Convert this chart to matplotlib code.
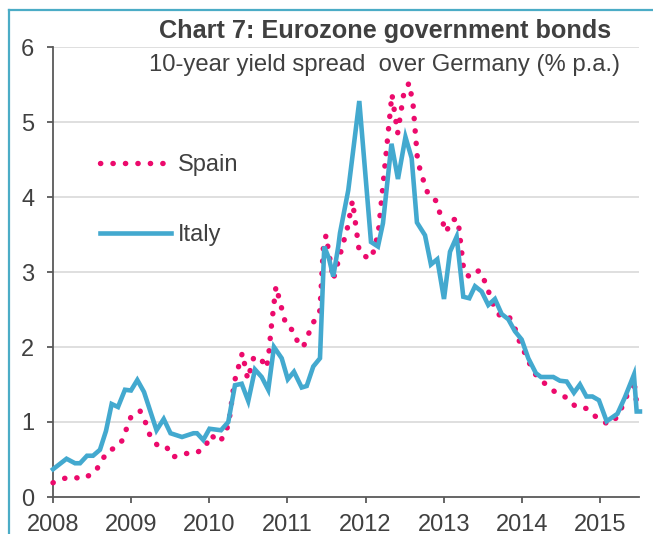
import matplotlib
matplotlib.use('Agg')
from matplotlib import pyplot as plt
from matplotlib.lines import Line2D

plt.rcParams['font.family'] = ['Liberation Sans', 'DejaVu Sans']

# Italy: 10-year spread over Germany (% p.a.)
italyYears = [2008.000, 2008.173, 2008.282, 2008.346, 2008.435, 2008.512, 2008.601, 2008.678,
	2008.751, 2008.832, 2008.921, 2008.998, 2009.079, 2009.165, 2009.325, 2009.417, 2009.504,
	2009.651, 2009.798, 2009.843, 2009.923, 2010.003, 2010.150, 2010.243, 2010.329, 2010.415,
	2010.499, 2010.585, 2010.671, 2010.755, 2010.828, 2010.927, 2011.005, 2011.084, 2011.183,
	2011.247, 2011.331, 2011.417, 2011.472, 2011.532, 2011.587, 2011.651, 2011.673, 2011.779,
	2011.920, 2012.070, 2012.159, 2012.223, 2012.332, 2012.415, 2012.511, 2012.590, 2012.658,
	2012.761, 2012.837, 2012.918, 2013.004, 2013.081, 2013.166, 2013.251, 2013.328, 2013.401,
	2013.486, 2013.571, 2013.656, 2013.742, 2013.827, 2013.912, 2013.998, 2014.083, 2014.181,
	2014.245, 2014.403, 2014.488, 2014.574, 2014.667, 2014.744, 2014.827, 2014.904, 2014.987,
	2015.086, 2015.224, 2015.320, 2015.435, 2015.470, 2015.512]
italy = [0.37, 0.51, 0.45, 0.45, 0.55, 0.55, 0.63, 0.88, 1.24, 1.20, 1.43, 1.42, 1.56, 1.40,
	0.89, 1.04, 0.85, 0.80, 0.85, 0.85, 0.76, 0.91, 0.89, 1.00, 1.49, 1.51, 1.28, 1.70, 1.60,
	1.43, 2.00, 1.85, 1.57, 1.67, 1.46, 1.48, 1.74, 1.85, 3.34, 3.18, 2.94, 3.34, 3.52, 4.09,
	5.28, 3.40, 3.34, 3.65, 4.71, 4.24, 4.80, 4.52, 3.66, 3.49, 3.10, 3.17, 2.64, 3.27, 3.47,
	2.67, 2.65, 2.81, 2.74, 2.56, 2.64, 2.44, 2.37, 2.21, 2.10, 1.85, 1.65, 1.60, 1.60, 1.55,
	1.54, 1.39, 1.50, 1.34, 1.34, 1.29, 1.01, 1.11, 1.33, 1.63, 1.14, 1.14]

# Spain
spainYears = [2008.000, 2008.115, 2008.237, 2008.378, 2008.537, 2008.697, 2008.806, 2008.883,
	2008.998, 2009.113, 2009.190, 2009.241, 2009.335, 2009.446, 2009.532, 2009.668, 2009.817,
	2009.941, 2010.018, 2010.128, 2010.205, 2010.252, 2010.320, 2010.423, 2010.492, 2010.566,
	2010.649, 2010.726, 2010.755, 2010.790, 2010.854, 2010.982, 2011.084, 2011.139, 2011.203,
	2011.327, 2011.408, 2011.417, 2011.459, 2011.494, 2011.587, 2011.771, 2011.833, 2011.920,
	2012.048, 2012.112, 2012.166, 2012.338, 2012.411, 2012.488, 2012.556, 2012.607, 2012.665,
	2012.709, 2012.803, 2012.901, 2013.029, 2013.110, 2013.183, 2013.260, 2013.337, 2013.452,
	2013.529, 2013.644, 2013.729, 2013.840, 2013.912, 2013.968, 2014.104, 2014.190, 2014.309,
	2014.437, 2014.582, 2014.693, 2014.830, 2014.936, 2015.022, 2015.119, 2015.234, 2015.298,
	2015.435, 2015.473, 2015.512]
spain = [0.19, 0.24, 0.27, 0.24, 0.33, 0.61, 0.66, 0.75, 1.07, 1.15, 0.98, 0.82, 0.69, 0.68,
	0.53, 0.58, 0.58, 0.65, 0.83, 0.73, 0.84, 1.00, 1.53, 1.92, 1.57, 1.85, 1.87, 1.72, 1.83,
	2.23, 2.81, 2.29, 2.21, 2.04, 2.00, 2.32, 2.45, 2.50, 3.31, 3.49, 2.90, 3.60, 3.95, 3.27,
	3.17, 3.29, 3.55, 5.37, 4.85, 5.37, 5.52, 5.25, 4.50, 4.32, 4.03, 3.95, 3.53, 3.70, 3.70,
	3.00, 2.93, 3.02, 2.87, 2.54, 2.40, 2.40, 2.25, 2.08, 1.77, 1.61, 1.50, 1.39, 1.32, 1.20,
	1.18, 1.08, 1.01, 0.97, 1.08, 1.24, 1.56, 1.22, 1.20]

anios = [2008, 2009, 2010, 2011, 2012, 2013, 2014, 2015]
valoresY = [0, 1, 2, 3, 4, 5, 6]

colorTexto = '#404040'
colorEspana = '#EC0A6C'
colorItalia = '#43A9CF'

fig = plt.figure(figsize=(6.53, 5.34), dpi=100)
ax = fig.add_axes([53/653, 37/534, 586/653, 450/534])

lineaEspana, = ax.plot(spainYears, spain, color=colorEspana, linewidth=3.9,
	linestyle=(0, (0.05, 2.25)), dash_capstyle='round', label='Spain', clip_on=False, zorder=3)
lineaItalia, = ax.plot(italyYears, italy, color=colorItalia, linewidth=3.3,
	solid_joinstyle='miter', label='Italy', clip_on=False, zorder=4)

ax.set_xlim(2008, 2015.5)
ax.set_ylim(0, 6)
ax.set_xticks(anios)
ax.set_yticks(valoresY)
ax.set_xticklabels([str(a) for a in anios])

for v in valoresY[1:]:
	ax.axhline(v, color='#D9D9D9', linewidth=1.2, zorder=1)

for lado in ['top', 'right']:
	ax.spines[lado].set_visible(False)
for lado in ['left', 'bottom']:
	ax.spines[lado].set_color('#595959')
	ax.spines[lado].set_linewidth(1.3)

ax.tick_params(axis='both', colors='#595959', labelcolor=colorTexto, labelsize=17,
	length=4.5, width=1.3)
ax.tick_params(axis='y', pad=9)
ax.tick_params(axis='x', pad=8)

ax.legend(handles=[lineaEspana, lineaItalia], loc='upper left',
	bbox_to_anchor=(100/653, 1 - 154/534), bbox_transform=fig.transFigure,
	frameon=False, fontsize=17, labelcolor=colorTexto, handlelength=3.0,
	handletextpad=0.3, labelspacing=2.05, borderpad=0, borderaxespad=0)

fig.text(385/653, 1 - 38/534, 'Chart 7: Eurozone government bonds', ha='center',
	va='baseline', fontsize=18.2, fontweight='bold', color=colorTexto)
fig.text(384/653, 1 - 71/534, '10-year yield spread  over Germany (% p.a.)', ha='center',
	va='baseline', fontsize=17.2, color=colorTexto)

# marco azul alrededor de la figura
fig.add_artist(Line2D([9/653, 1], [1 - 10/534, 1 - 10/534], transform=fig.transFigure,
	color='#4BACC6', linewidth=1.6))
fig.add_artist(Line2D([9/653, 9/653], [0, 1 - 10/534], transform=fig.transFigure,
	color='#4BACC6', linewidth=1.6))

fig.savefig('out.png', dpi=100)
